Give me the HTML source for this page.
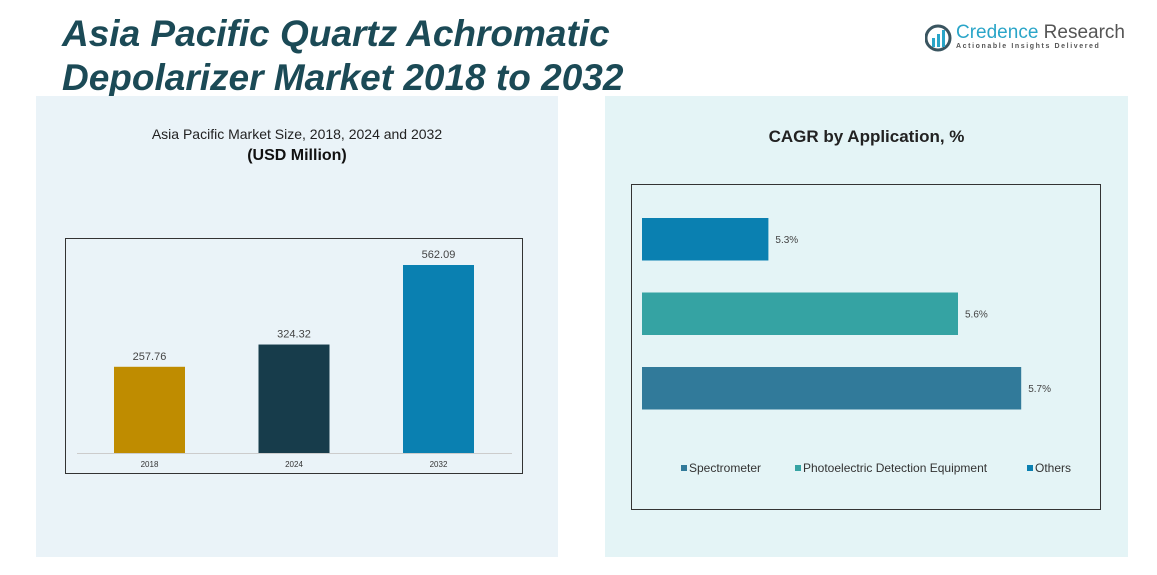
<!DOCTYPE html>
<html><head><meta charset="utf-8"><style>
body{margin:0;width:1157px;height:575px;background:#fff;font-family:"Liberation Sans",sans-serif;position:relative;overflow:hidden}
.abs{position:absolute}
</style></head><body>
<div class="abs" style="left:62px;top:12px;font-size:37px;font-weight:bold;font-style:italic;color:#1b4a56;line-height:44px">Asia Pacific Quartz Achromatic<br>Depolarizer Market 2018 to 2032</div>
<div class="abs" style="left:925px;top:22px;width:200px;height:32px">
<svg width="28" height="28" style="position:absolute;left:0;top:2px"><circle cx="13" cy="14" r="12" fill="none" stroke="#3a5560" stroke-width="3"/><rect x="7" y="14" width="3" height="9" fill="#2aa5c8"/><rect x="12" y="10" width="3" height="13" fill="#2aa5c8"/><rect x="17" y="6" width="3" height="17" fill="#2aa5c8"/></svg>
<div class="abs" style="left:31px;top:0;font-size:19px;color:#555;white-space:nowrap"><span style="color:#2aa5c8">Credence</span> Research</div>
<div class="abs" style="left:31px;top:21px;font-size:7px;letter-spacing:1.6px;color:#555;white-space:nowrap;font-weight:bold">Actionable Insights Delivered</div>
</div>
<div class="abs" style="left:36px;top:96px;width:522px;height:461px;background:#eaf3f8"></div>
<div class="abs" style="left:605px;top:96px;width:523px;height:461px;background:#e4f4f6"></div>
<div class="abs" style="left:36px;top:126px;width:522px;text-align:center;font-size:14px;color:#222">Asia Pacific Market Size, 2018, 2024 and 2032</div>
<div class="abs" style="left:36px;top:147px;width:522px;text-align:center;font-size:16px;font-weight:bold;color:#111">(USD Million)</div>
<div class="abs" style="left:605px;top:127px;width:523px;text-align:center;font-size:17px;font-weight:bold;color:#222">CAGR by Application, %</div>
<svg class="abs" style="left:0;top:0" width="1157" height="575" id="s"></svg>
<script>
const years=["2018","2024","2032"];
const sizes=[257.76,324.32,562.09];
const barColors=["#bf8c00","#173c4b","#0a80b1"];
const apps=["Others","Photoelectric Detection Equipment","Spectrometer"];
const cagr=[5.3,5.6,5.7];
const appColors=["#0a80b1","#35a3a3","#317a9a"];
const legendOrder=["Spectrometer","Photoelectric Detection Equipment","Others"];
const legendColors=["#317a9a","#35a3a3","#0a80b1"];
const NS="http://www.w3.org/2000/svg",s=document.getElementById('s');
function mk(t,a,txt){const e=document.createElementNS(NS,t);for(const k in a)e.setAttribute(k,a[k]);if(txt!==undefined)e.textContent=txt;s.appendChild(e);return e;}
let e=mk('rect',{x:65.5,y:238.5,width:457,height:235,fill:'none',stroke:'#333','stroke-width':1});


e=mk('line',{x1:77,x2:512,y1:453.5,y2:453.5,stroke:'#ccc'});


const base=453,yk=188/562.09;
const yS=v=>base-v*yk;
const xC=i=>149.5+i*144.5;
years.forEach((y,i)=>{
 let r=mk('rect',{x:xC(i)-35.5,y:yS(sizes[i]),width:71,height:base-yS(sizes[i]),fill:barColors[i]});
 
 
 let t=mk('text',{x:xC(i),y:yS(sizes[i])-7,'text-anchor':'middle','font-size':11,fill:'#444'},sizes[i].toFixed(2));
 
 
 t=mk('text',{x:xC(i),y:467,'text-anchor':'middle','font-size':8,fill:'#333'},y);
 
 
});
e=mk('rect',{x:631.5,y:184.5,width:469,height:325,fill:'none',stroke:'#333'});


const x0=642,xmin=5.1,xk=632;
const xS=v=>x0+(v-xmin)*xk;
const yR=i=>218+i*74.5;
apps.forEach((a,i)=>{
 let r=mk('rect',{x:x0,y:yR(i),width:xS(cagr[i])-x0,height:42.5,fill:appColors[i]});
 
 
 let t=mk('text',{x:xS(cagr[i])+7,y:yR(i)+25,'font-size':10,fill:'#444'},cagr[i]+'%');
 
 
});
const lx=[681,795,1027];
legendOrder.forEach((l,i)=>{
 let r=mk('rect',{x:lx[i],y:465,width:6,height:6,fill:legendColors[i]});
 
 
 let t=mk('text',{x:lx[i]+8,y:472,'font-size':12,fill:'#333'},l);
 
 
});
</script>
</body></html>
